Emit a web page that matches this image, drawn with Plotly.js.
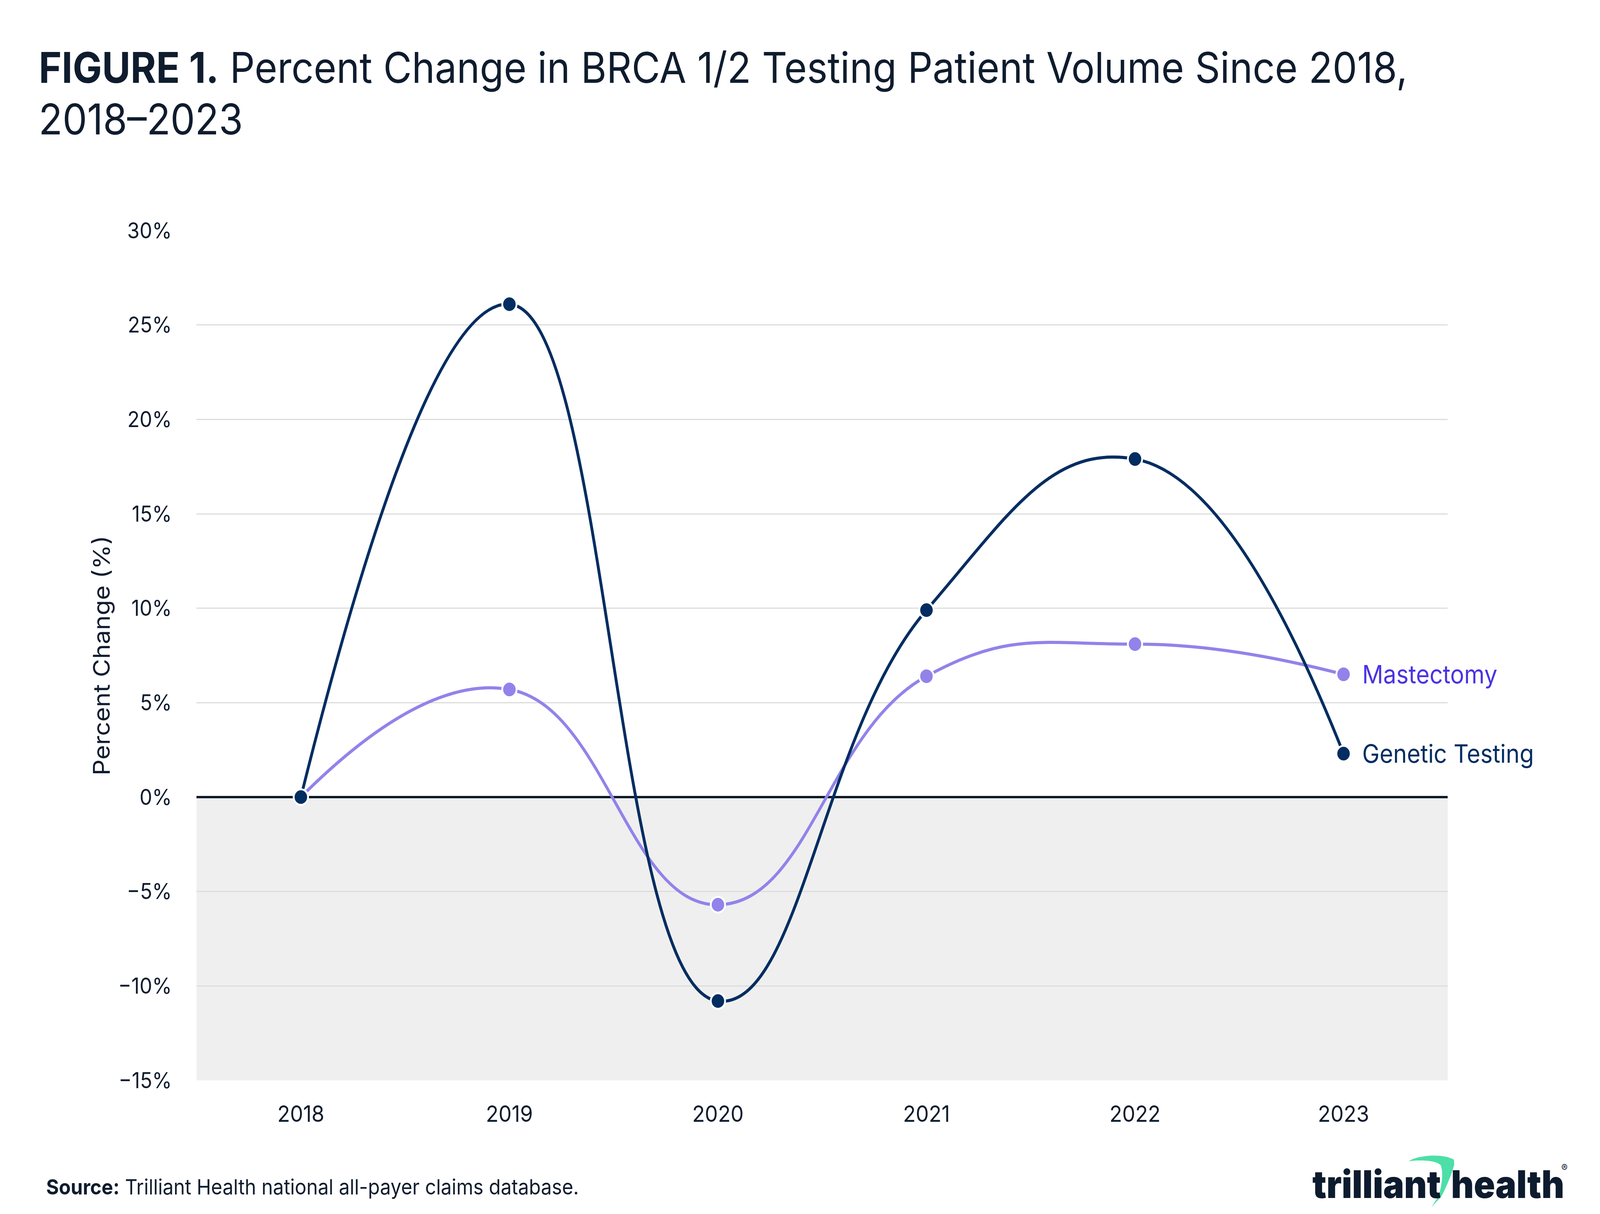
<!DOCTYPE html>
<html>
<head>
<meta charset="utf-8">
<script src="https://cdn.plot.ly/plotly-3.0.1.min.js"></script>
<style>
html,body{margin:0;padding:0;background:#fff;overflow:hidden;}
#wrap{position:absolute;left:0;top:0;width:4468px;height:3107px;transform-origin:0 0;}
#chart{width:4468px;height:3107px;}
</style>
</head>
<body>
<div id="wrap"><div id="chart"></div></div>
<script>
// ---- data ----
const years = ['2018', '2019', '2020', '2021', '2022', '2023'];
const geneticTesting = [0, 26.1, -10.8, 9.9, 17.9, 2.3];
const mastectomy = [0, 5.7, -5.7, 6.4, 8.1, 6.5];
const seriesNames = ['Genetic Testing', 'Mastectomy'];
const yTickVals = [-15, -10, -5, 0, 5, 10, 15, 20, 25, 30];
const yTickText = yTickVals.map(v => (v < 0 ? '\u2212' : '') + Math.abs(v) + '%');

// ---- layout constants ----
const W = 4468, H = 3107;
const M = {l: 549, r: 425, t: 590, b: 342, pad: 0, autoexpand: false};
const PW = W - M.l - M.r, PH = H - M.t - M.b;
const px2x = p => (p - M.l) / PW;
const py2y = p => (H - M.b - p) / PH;
const FONT = 'Inter, "Noto Sans", sans-serif';
const NAVY = '#022d61';
const LAV = '#9183ea';
const TXT = '#0f1c2e';

// fit the 4468x3107 design to the actual viewport
(function fit() {
  const vw = window.innerWidth || W, vh = window.innerHeight || H;
  document.getElementById('wrap').style.transform = 'scale(' + (vw / W) + ',' + (vh / H) + ')';
})();

const markerLine = {color: '#ffffff', width: 5};
const lastIdx = years.length - 1;

const traces = [
  {
    x: years, y: mastectomy, name: seriesNames[1], type: 'scatter', mode: 'lines+markers',
    line: {color: LAV, width: 8, shape: 'spline', smoothing: 1.3},
    marker: {color: LAV, size: 40, line: markerLine},
    cliponaxis: false, hoverinfo: 'x+y'
  },
  {
    x: years, y: geneticTesting, name: seriesNames[0], type: 'scatter', mode: 'lines+markers',
    line: {color: NAVY, width: 8, shape: 'spline', smoothing: 1.3},
    marker: {color: NAVY, size: 40, line: markerLine},
    cliponaxis: false, hoverinfo: 'x+y'
  }
];

// swoosh path for logo (pixel coords -> paper), shifted to sit in the gap
const SX = 45;
function P(x, y) { return px2x(x + SX).toFixed(5) + ',' + py2y(y).toFixed(5); }
const swoosh = 'M' + P(3889, 2972) +
  ' C' + P(3910, 2958) + ' ' + P(3980, 2950) + ' ' + P(4015, 2968) +
  ' L' + P(4016, 2980) +
  ' C' + P(4010, 3005) + ' ' + P(3990, 3045) + ' ' + P(3980, 3062) +
  ' L' + P(3952, 3090) +
  ' L' + P(3973, 3060) +
  ' C' + P(3982, 3030) + ' ' + P(3986, 3000) + ' ' + P(3978, 2982) +
  ' C' + P(3965, 2970) + ' ' + P(3925, 2968) + ' ' + P(3889, 2972) + ' Z';

const layout = {
  width: W, height: H,
  autosize: false,
  margin: M,
  paper_bgcolor: '#ffffff',
  plot_bgcolor: '#ffffff',
  showlegend: false,
  font: {family: FONT, color: TXT, size: 44},
  xaxis: {
    type: 'category',
    range: [-0.5, 5.5],
    showgrid: false, zeroline: false, showline: false,
    ticks: '', tickfont: {family: FONT, size: 58, color: TXT},
    ticklabelstandoff: 47,
    fixedrange: true
  },
  yaxis: {
    range: [-15, 30],
    tickmode: 'array',
    tickvals: yTickVals,
    ticktext: yTickText,
    showgrid: true, gridcolor: '#dddddd', gridwidth: 3,
    zeroline: true, zerolinecolor: '#0d1b2a', zerolinewidth: 6,
    showline: false, ticks: '',
    tickfont: {family: FONT, size: 56, color: TXT},
    ticklabelstandoff: 68,
    fixedrange: true
  },
  shapes: [
    {type: 'rect', xref: 'paper', yref: 'y', x0: 0, x1: 1, y0: -15, y1: 0,
      fillcolor: '#efefef', line: {width: 0}, layer: 'below'},
    {type: 'path', xref: 'paper', yref: 'paper', path: swoosh,
      fillcolor: '#4ddfa7', line: {width: 0}, layer: 'above'}
  ],
  annotations: [
    {text: '<b>FIGURE 1.</b> Percent Change in BRCA 1/2 Testing Patient Volume Since 2018,',
      xref: 'paper', yref: 'paper', x: px2x(106), y: py2y(172),
      xanchor: 'left', yanchor: 'middle', showarrow: false,
      font: {family: FONT, size: 109, color: TXT}},
    {text: '2018–2023',
      xref: 'paper', yref: 'paper', x: px2x(106), y: py2y(304),
      xanchor: 'left', yanchor: 'middle', showarrow: false,
      font: {family: FONT, size: 109, color: TXT}},
    {text: 'Percent Change (%)', xref: 'paper', yref: 'paper', x: px2x(283), y: 0.5,
      textangle: -90, showarrow: false, xanchor: 'center', yanchor: 'middle',
      font: {family: FONT, size: 64, color: TXT}},
    {text: seriesNames[1], xref: 'x', yref: 'y', x: lastIdx, y: mastectomy[lastIdx],
      xanchor: 'left', yanchor: 'middle', xshift: 50, showarrow: false,
      font: {family: FONT, size: 65, color: '#4a33e3'}},
    {text: seriesNames[0], xref: 'x', yref: 'y', x: lastIdx, y: geneticTesting[lastIdx],
      xanchor: 'left', yanchor: 'middle', xshift: 50, showarrow: false,
      font: {family: FONT, size: 65, color: NAVY}},
    {text: '<b>Source:</b> Trilliant Health national all-payer claims database.',
      xref: 'paper', yref: 'paper', x: px2x(127), y: py2y(3037),
      xanchor: 'left', yanchor: 'middle', showarrow: false,
      font: {family: FONT, size: 54, color: TXT}},
    {text: 'trilliant', xref: 'paper', yref: 'paper', x: px2x(4026), y: py2y(3030),
      xanchor: 'right', yanchor: 'middle', showarrow: false,
      font: {family: FONT, size: 98, weight: 900, color: '#0d1b2e'}},
    {text: 'health', xref: 'paper', yref: 'paper', x: px2x(4050), y: py2y(3030),
      xanchor: 'left', yanchor: 'middle', showarrow: false,
      font: {family: FONT, size: 98, weight: 900, color: '#0d1b2e'}},
    {text: '®', xref: 'paper', yref: 'paper', x: px2x(4358), y: py2y(2988),
      xanchor: 'left', yanchor: 'middle', showarrow: false,
      font: {family: FONT, size: 26, color: '#0d1b2e'}}
  ]
};

Plotly.newPlot('chart', traces, layout, {staticPlot: true, displayModeBar: false});
</script>
</body>
</html>
